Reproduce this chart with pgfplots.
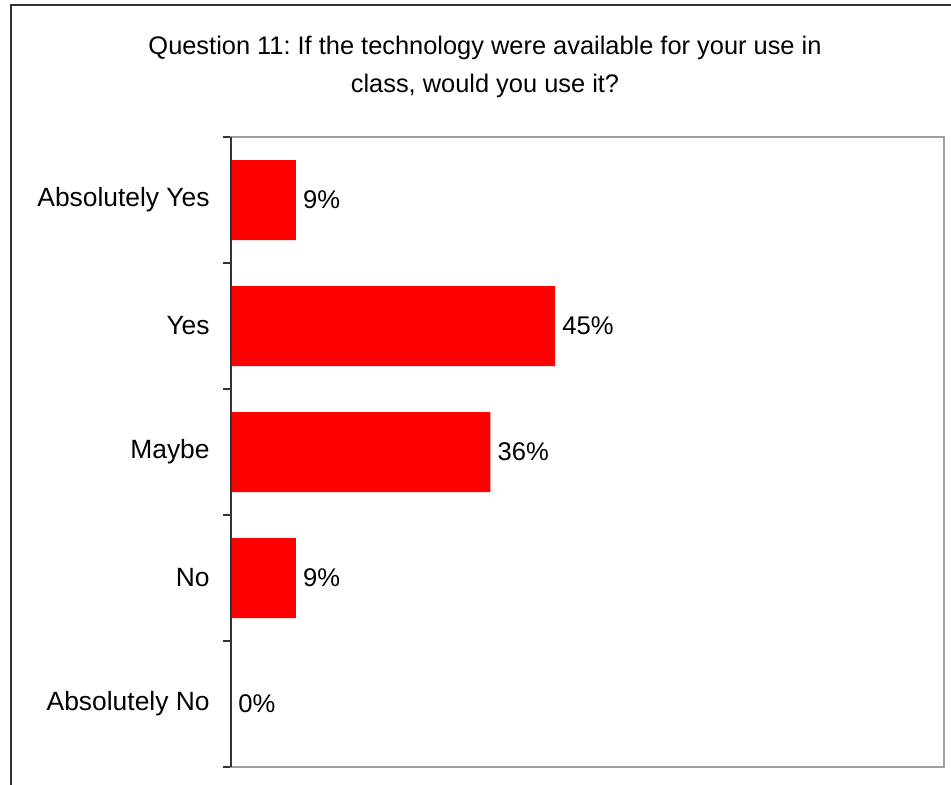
\documentclass[border=0pt]{standalone}
\usepackage{pgfplots}
\pgfplotsset{compat=1.18}
\usepackage{fontspec}
\setmainfont{Liberation Sans}
\frenchspacing
\begin{document}
\begin{tikzpicture}
\useasboundingbox (0,0) rectangle (475.5pt,392pt);
\draw[black!80, line width=1pt] (5.5pt,-5pt) -- (5.5pt,389.5pt) -- (480pt,389.5pt);
\node[align=center, font=\fontsize{12.7}{19}\selectfont, inner sep=0pt] at (242.5pt,358.5pt) {Question 11: If the technology were available for your use in\\class, would you use it?};
\begin{axis}[
  at={(115.5pt,8.5pt)}, anchor=south west, scale only axis,
  width=356.5pt, height=315pt,
  xbar, bar width=40pt,
  xmin=0, xmax=100, ymin=-0.5, ymax=4.5, y dir=reverse,
  axis line style={draw=gray!75, line width=1pt},
  xtick=\empty,
  ytick={0,1,2,3,4},
  yticklabels={Absolutely Yes,Yes,Maybe,No,Absolutely No},
  ytick pos=left,
  major tick length=0pt,
  minor ytick={-0.5,0.5,1.5,2.5,3.5,4.5},
  minor tick length=4pt,
  tick align=outside,
  tick style={draw=black!80, line width=0.6pt},
  yticklabel style={anchor=east, inner sep=0pt, xshift=-10.5pt, font=\fontsize{13.2}{15}\selectfont},
  point meta=explicit symbolic,
  nodes near coords,
  nodes near coords style={anchor=west, inner sep=0pt, xshift=3.5pt, font=\fontsize{12.8}{15}\selectfont, text=black},
  clip=false,
]
\addplot[fill=red, draw=none] table[x=v, y=c, meta=l] {
c v l
0 9.09 9\%
1 45.45 45\%
2 36.36 36\%
3 9.09 9\%
4 0 0\%
};
\draw[black!80, line width=1pt] (rel axis cs:0,0) -- (rel axis cs:0,1);
\end{axis}
\end{tikzpicture}
\end{document}
